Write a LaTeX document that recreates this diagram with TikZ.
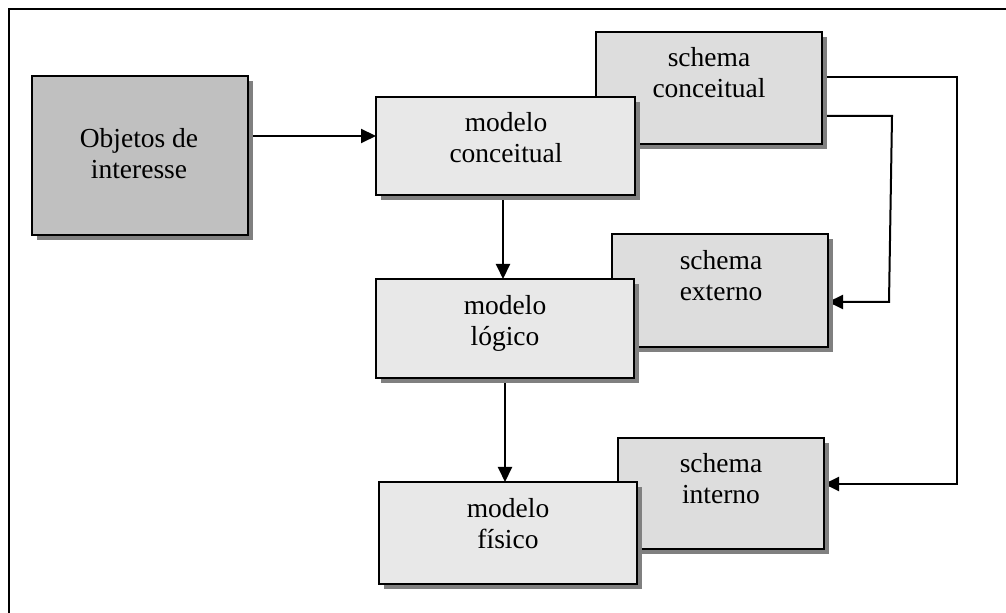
\documentclass[tikz,border=0pt]{standalone}
\usepackage{fontspec}
\setmainfont{Liberation Serif}
\usetikzlibrary{arrows.meta,shadows,backgrounds}

\definecolor{objfill}{HTML}{C0C0C0}
\definecolor{modelfill}{HTML}{E8E8E8}
\definecolor{schemafill}{HTML}{DDDDDD}
\definecolor{shadowgray}{HTML}{808080}

% two centred lines, baseline on the first one
\newcommand\twolines[2]{\begin{tabular}[t]{@{}c@{}}#1\\#2\end{tabular}}

\tikzset{
  card/.style={draw=black, line width=1pt, inner sep=0pt, outer sep=0pt,
    drop shadow={shadow xshift=2.5pt, shadow yshift=-2.5pt, fill=shadowgray, opacity=1}},
  objbox/.style={card, fill=objfill},
  modelbox/.style={card, fill=modelfill},
  schemabox/.style={card, fill=schemafill},
  txt/.style={anchor=base, inner sep=0pt,
    font=\fontsize{13.75pt}{15.2pt}\selectfont},
  link/.style={draw=black, line width=1pt},
  arr/.style={link, -{Triangle[length=7.5pt,width=7pt]}}
}

\begin{document}
\begin{tikzpicture}[x=0.5pt,y=-0.5pt]
\useasboundingbox (0,0) rectangle (1006,613);

% outer frame (open on the right and bottom)
\draw[line width=1pt] (9,613) -- (9,9) -- (1006,9);

% boxes, back to front
\node[objbox, minimum width=108pt, minimum height=79.5pt] (obj) at (140,155.5) {};
\node[schemabox, minimum width=113pt, minimum height=56pt] (sc) at (709,88) {};
\node[modelbox, minimum width=129.5pt, minimum height=49pt] (mc) at (505.5,146) {};
\node[schemabox, minimum width=108pt, minimum height=56.5pt] (se) at (720,290.5) {};
\node[modelbox, minimum width=129pt, minimum height=49.5pt] (ml) at (505,328.5) {};
\node[schemabox, minimum width=103pt, minimum height=55.5pt] (si) at (721,493.5) {};
\node[modelbox, minimum width=129pt, minimum height=51pt] (mf) at (508,533) {};

% labels
\node[txt] (tobj) at (139,148) {\twolines{Objetos de}{interesse}};
\node[txt] (tsc) at (709,67) {\twolines{schema}{conceitual}};
\node[txt] (tmc) at (506,132) {\twolines{modelo}{conceitual}};
\node[txt] (tse) at (721,270) {\twolines{schema}{externo}};
\node[txt] (tml) at (505,315) {\twolines{modelo}{lógico}};
\node[txt] (tsi) at (721,473) {\twolines{schema}{interno}};
\node[txt] (tmf) at (508,518) {\twolines{modelo}{físico}};

% guide coordinates for the connectors
\coordinate (h1) at (0,136);
\coordinate (h2) at (0,77);
\coordinate (h3) at (0,116);
\coordinate (h4) at (0,302);
\coordinate (h5) at (0,484);
\coordinate (v1) at (503,0);
\coordinate (v2) at (505,0);
\coordinate (c1) at (957,77);
\coordinate (c2) at (957,484);
\coordinate (c3) at (892,116);
\coordinate (c4) at (889,302);

\begin{scope}[on background layer]
  \draw[arr] (obj.east |- h1) -- (mc.west |- h1);
  \draw[arr] (mc.south -| v1) -- (ml.north -| v1);
  \draw[arr] (ml.south -| v2) -- (mf.north -| v2);
  \draw[arr] (sc.east |- h2) -- (c1) -- (c2) -- (si.east |- h5);
  \draw[arr] (sc.east |- h3) -- (c3) -- (c4) -- (se.east |- h4);
\end{scope}
\end{tikzpicture}
\end{document}
